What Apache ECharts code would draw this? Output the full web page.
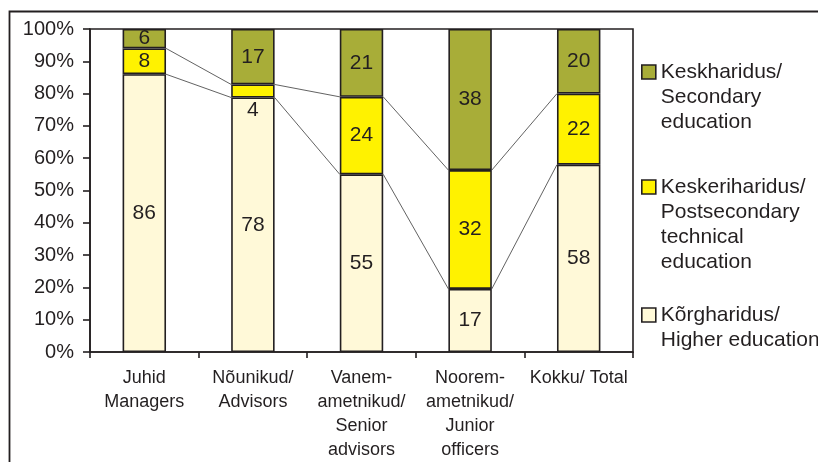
<!DOCTYPE html>
<html><head><meta charset="utf-8">
<script src="https://cdn.jsdelivr.net/npm/echarts@6/dist/echarts.min.js"></script>
<style>html,body{margin:0;padding:0;background:#fff}#c{width:818px;height:462px}</style>
</head><body><div id="c"></div>
<script>
const categories = ['Juhid\nManagers', 'Nõunikud/\nAdvisors', 'Vanem-\nametnikud/\nSenior\nadvisors', 'Noorem-\nametnikud/\nJunior\nofficers', 'Kokku/ Total'];
const higher = [86, 78, 55, 17, 58];
const postsecondary = [8, 4, 24, 32, 22];
const secondary = [6, 17, 21, 38, 20];
const nameSecondary = 'Keskharidus/\nSecondary\neducation';
const namePostsec = 'Keskeriharidus/\nPostsecondary\ntechnical\neducation';
const nameHigher = 'Kõrgharidus/\nHigher education';

const FONT = "'Liberation Sans', Arial, sans-serif";
const TXT = '#231f20';
const totals = higher.map((v, i) => v + postsecondary[i] + secondary[i]);
const pct = arr => arr.map((v, i) => v / totals[i] * 100);
const pH = pct(higher), pP = pct(postsecondary), pS = pct(secondary);
const cum1 = pH;
const cum2 = pH.map((v, i) => v + pP[i]);
const linkData = [];
for (let i = 0; i < categories.length - 1; i++) {
  linkData.push([i, cum1[i], cum1[i + 1], cum2[i], cum2[i + 1]]);
}

const barItem = c => ({ color: c, borderColor: TXT, borderWidth: 1.6 });
const lbl = raw => ({
  show: true, position: 'inside', color: TXT, fontFamily: FONT, fontSize: 21,
  formatter: p => raw[p.dataIndex]
});

const LH = 25;
function legendFor(name, firstLineY) {
  const n = name.split('\n').length;
  return {
    data: [name], orient: 'vertical', left: 641, top: firstLineY - (2 * n - 1) * LH / 2,
    padding: 0, itemWidth: 14, itemHeight: 14, itemGap: 0, icon: 'rect',
    itemStyle: { borderColor: TXT, borderWidth: 1.6 },
    formatter: nm => '\n'.repeat(n - 1) + nm,
    textStyle: { fontFamily: FONT, fontSize: 21, color: TXT, lineHeight: LH }
  };
}

const chart = echarts.init(document.getElementById('c'), null, { renderer: 'canvas' });
chart.setOption({
  animation: false,
  backgroundColor: '#fff',
  graphic: [{
    type: 'rect', left: 7, top: 9, silent: true,
    shape: { width: 1000, height: 1000 },
    style: { fill: 'none', stroke: TXT, lineWidth: 1.8 }
  }],
  legend: [
    legendFor(nameSecondary, 72),
    legendFor(namePostsec, 187),
    legendFor(nameHigher, 315)
  ],
  grid: { left: 90, top: 29, right: 185, bottom: 109, show: true, borderColor: TXT, borderWidth: 1.6, backgroundColor: 'transparent' },
  xAxis: {
    type: 'category', data: categories,
    axisLine: { lineStyle: { color: TXT, width: 1.6 } },
    axisTick: { show: true, length: 6, lineStyle: { color: TXT, width: 1.6 } },
    axisLabel: { interval: 0, margin: 14, fontFamily: FONT, fontSize: 18, lineHeight: 24, color: TXT, align: 'center' }
  },
  yAxis: {
    type: 'value', min: 0, max: 100, interval: 10,
    splitLine: { show: false },
    axisLine: { show: true, lineStyle: { color: TXT, width: 1.6 } },
    axisTick: { show: true, length: 7, lineStyle: { color: TXT, width: 1.6 } },
    axisLabel: { formatter: '{value}%', margin: 16, fontFamily: FONT, fontSize: 20, color: TXT }
  },
  series: [
    { name: nameHigher, type: 'bar', stack: 's', barWidth: '40%', data: pH, itemStyle: barItem('#fff9d8'), label: lbl(higher) },
    { name: namePostsec, type: 'bar', stack: 's', barWidth: '40%',
      data: pP.map((v, i) => i === 1 ? { value: v, label: { position: 'bottom', distance: 2 } } : v),
      itemStyle: barItem('#fff200'), label: lbl(postsecondary) },
    { name: nameSecondary, type: 'bar', stack: 's', barWidth: '40%', data: pS, itemStyle: barItem('#a8ad38'), label: lbl(secondary) },
    {
      type: 'custom', silent: true, z: 5,
      encode: { x: 0, y: [1, 2, 3, 4] },
      data: linkData,
      renderItem: (params, api) => {
        const i = api.value(0);
        const half = api.size([1, 0])[0] * 0.2;
        const children = [];
        for (const k of [1, 3]) {
          const a = api.coord([i, api.value(k)]);
          const b = api.coord([i + 1, api.value(k + 1)]);
          children.push({ type: 'line', shape: { x1: a[0] + half, y1: a[1], x2: b[0] - half, y2: b[1] }, style: { stroke: '#3a3a3a', lineWidth: 0.8 } });
        }
        return { type: 'group', children };
      }
    }
  ]
});
</script></body></html>
